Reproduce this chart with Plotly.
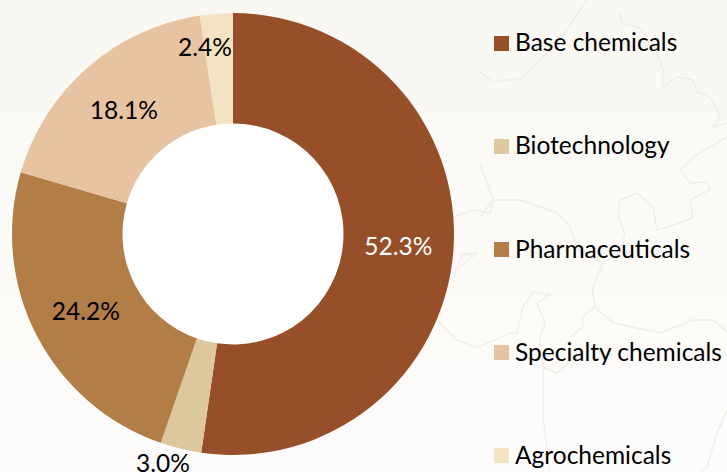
import plotly.graph_objects as go

categories = ["Base chemicals", "Biotechnology", "Pharmaceuticals", "Specialty chemicals", "Agrochemicals"]
values = [52.3, 3.0, 24.2, 18.1, 2.4]
colors = ["#964F28", "#DCC89C", "#B27D46", "#E8C3A2", "#F3E3C3"]
label_colors = ["#FFFFFF", "#000000", "#000000", "#000000", "#000000"]
FONT = "Lato, Carlito, Calibri, sans-serif"
FS = 24.5
W, H = 727, 472
cx, cy, r = 233, 234, 221

# faint background map outline, in pixels of the picture
map_lines = [
    [(480,72),(493,82),(523,78),(543,57),(560,40),(580,10),(587,0)],
    [(620,13),(622,23),(640,28),(653,43),(663,70),(663,87),(677,77),(693,80),(697,92),(710,97),(720,117),(713,127),(727,123)],
    [(727,137),(693,157),(680,170),(690,183),(707,182),(710,190),(690,200),(693,217),(680,223),(657,230),(653,207),(637,193),(620,200),(618,217),(625,233),(620,253),(603,263),(597,277),(592,290),(595,307),(582,317),(583,327),(570,337)],
    [(480,163),(493,200),(520,200),(557,213),(570,227),(580,253),(603,263)],
    [(480,217),(493,200)],
    [(595,307),(613,323),(660,333),(693,320),(713,320),(727,332)],
    [(437,320),(457,340),(477,348),(510,333),(517,333),(523,307),(533,292),(550,295),(537,303),(545,323),(540,337),(543,367),(557,373),(568,363),(570,340)],
    [(543,367),(543,417),(550,472)],
    [(727,410),(717,433),(707,467),(700,472)],
    [(453,217),(473,210),(490,213),(493,200)],
    [(460,267),(477,253),(463,255),(453,277)],
]
bg_bands = ["#FAF8F3", "#FAF8F4", "#FBF9F5", "#FBFAF6", "#FBFAF7", "#FCFBF8", "#FCFBF9", "#FDFCFA"]

px = lambda x: x / W
py = lambda y: 1 - y / H

texts = [f"{v:.1f}%" if v > 10 else "" for v in values]
fig = go.Figure(go.Pie(
    labels=categories, values=values, sort=False, direction="clockwise", rotation=0,
    hole=0.5, marker=dict(colors=colors, line=dict(width=0)),
    text=texts, textinfo="text", textposition="inside", insidetextorientation="horizontal",
    insidetextfont=dict(family=FONT, size=FS, color=label_colors),
    showlegend=False,
    domain=dict(x=[px(cx-r), px(cx+r)], y=[py(cy+r), py(cy-r)]),
))
shapes, ann = [], []
for i, c in enumerate(bg_bands):
    shapes.append(dict(type="rect", xref="paper", yref="paper", x0=0, x1=1,
                       y0=1-(i+1)/len(bg_bands), y1=1-i/len(bg_bands), fillcolor=c, line_width=0, layer="below"))
for line in map_lines:
    d = "M " + " L ".join(f"{px(x):.4f},{py(y):.4f}" for x, y in line)
    shapes.append(dict(type="path", xref="paper", yref="paper", path=d, layer="below",
                       line=dict(color="#EFEDE9", width=1.5)))
shapes.append(dict(type="circle", xref="paper", yref="paper", x0=px(cx-r/2), x1=px(cx+r/2),
                   y0=py(cy+r/2), y1=py(cy-r/2), fillcolor="#FFFFFF", line_width=0, layer="below"))
ann.append(dict(x=px(163), y=py(462), text=f"{values[1]:.1f}%", font=dict(family=FONT, size=FS, color="#000"),
                showarrow=False, xref="paper", yref="paper", xanchor="center", yanchor="middle"))
ann.append(dict(x=px(205), y=py(47), text=f"{values[4]:.1f}%", font=dict(family=FONT, size=FS, color="#000"),
                showarrow=False, xref="paper", yref="paper", xanchor="center", yanchor="middle"))
for i, (c, col) in enumerate(zip(categories, colors)):
    y = 43.5 + i*103
    shapes.append(dict(type="rect", xref="paper", yref="paper", x0=px(494), x1=px(509),
                       y0=py(y+7.5), y1=py(y-7.5), fillcolor=col, line_width=0))
    ann.append(dict(x=px(513), y=py(y-1.5), text=c, font=dict(family=FONT, size=FS, color="#000"),
                    showarrow=False, xref="paper", yref="paper", xanchor="left", yanchor="middle"))
fig.update_layout(width=W, height=H, margin=dict(l=0, r=0, t=0, b=0),
                  paper_bgcolor="#FBFAF7", plot_bgcolor="#FBFAF7", shapes=shapes, annotations=ann)
fig.write_html("out.html", config=dict(displayModeBar=False),
               post_script="document.body.style.margin='0';document.body.style.overflow='hidden';")
